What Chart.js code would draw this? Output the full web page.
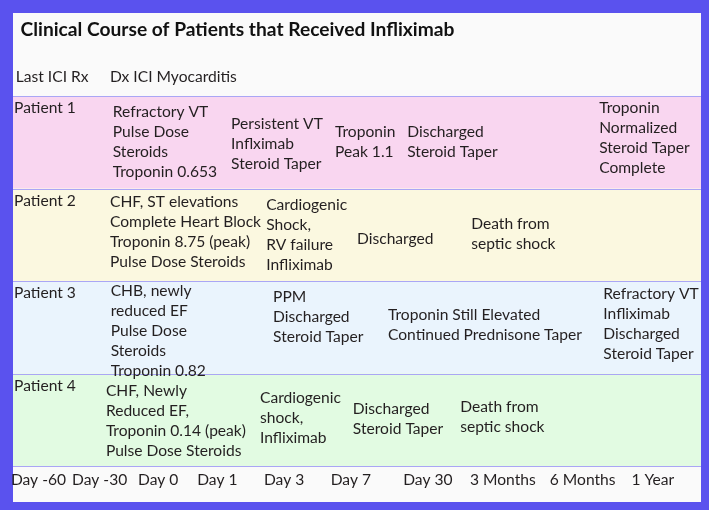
<!DOCTYPE html>
<html>
<head>
<meta charset="utf-8">
<script src="https://cdn.jsdelivr.net/npm/chart.js@4"></script>
<style>
  html, body { margin: 0; padding: 0; background: #5a52ee; }
  #chart { display: block; }
</style>
</head>
<body>
<canvas id="chart" width="709" height="510"></canvas>
<script>
// titulo y encabezados
const titulo = 'Clinical Course of Patients that Received Infliximab';
const encabezados = ['Last ICI Rx', 'Dx ICI Myocarditis'];
const encabezadosX = [0.4, 14.1];

// eje de tiempo (posiciones en unidades de linea de tiempo 0-100)
const etiquetasTiempo = ['Day -60', 'Day -30', 'Day 0', 'Day 1', 'Day 3', 'Day 7', 'Day 30', '3 Months', '6 Months', '1 Year'];
const posicionesTiempo = [3.7, 12.6, 21.1, 29.7, 39.4, 49.1, 60.3, 71.2, 82.8, 93.0];

// filas de pacientes
const pacientes = ['Patient 1', 'Patient 2', 'Patient 3', 'Patient 4'];
const coloresFila = ['#f9d6f0', '#fbf8e0', '#eaf4fd', '#e2fbe2'];

// eventos por paciente: texto, posicion x (tiempo) y posicion y (fila)
const eventosP1 = [
  ['Refractory VT', 'Pulse Dose', 'Steroids', 'Troponin 0.653'],
  ['Persistent VT', 'Inflximab', 'Steroid Taper'],
  ['Troponin', 'Peak 1.1'],
  ['Discharged', 'Steroid Taper'],
  ['Troponin', 'Normalized', 'Steroid Taper', 'Complete']
];
const xP1 = [14.5, 31.7, 46.8, 57.3, 85.2];
const yP1 = [0.49, 0.52, 0.49, 0.49, 0.45];

const eventosP2 = [
  ['CHF, ST elevations', 'Complete Heart Block', 'Troponin 8.75 (peak)', 'Pulse Dose Steroids'],
  ['Cardiogenic', 'Shock,', 'RV failure', 'Infliximab'],
  ['Discharged'],
  ['Death from', 'septic shock']
];
const xP2 = [14.1, 36.8, 50.0, 66.6];
const yP2 = [1.47, 1.50, 1.54, 1.49];

const eventosP3 = [
  ['CHB, newly', 'reduced EF', 'Pulse Dose', 'Steroids', 'Troponin 0.82'],
  ['PPM', 'Discharged', 'Steroid Taper'],
  ['Troponin Still Elevated', 'Continued Prednisone Taper'],
  ['Refractory VT', 'Infliximab', 'Discharged', 'Steroid Taper']
];
const xP3 = [14.2, 37.8, 54.5, 85.8];
const yP3 = [2.54, 2.39, 2.47, 2.46];

const eventosP4 = [
  ['CHF, Newly', 'Reduced EF,', 'Troponin 0.14 (peak)', 'Pulse Dose Steroids'],
  ['Cardiogenic', 'shock,', 'Infliximab'],
  ['Discharged', 'Steroid Taper'],
  ['Death from', 'septic shock']
];
const xP4 = [13.5, 35.9, 49.4, 65.0];
const yP4 = [3.51, 3.48, 3.49, 3.47];

const eventos = [eventosP1, eventosP2, eventosP3, eventosP4];
const eventosX = [xP1, xP2, xP3, xP4];
const eventosY = [yP1, yP2, yP3, yP4];

const fuente = 'Lato, "DejaVu Sans", sans-serif';
const colorTexto = '#231f20';
const colorMarco = '#5a52ee';
const margen = { left: 13, top: 13, right: 8, bottom: 8 };

// puntos ancla de los eventos (invisibles, el texto se dibuja encima)
const puntos = [];
eventos.forEach((lista, i) => {
  lista.forEach((_, j) => puntos.push({ x: eventosX[i][j], y: eventosY[i][j] }));
});

function escribirBloque(ctx, lineas, x, yCentro) {
  const alto = 20;
  lineas.forEach((l, k) => {
    ctx.fillText(l, x, yCentro + (k - (lineas.length - 1) / 2) * alto);
  });
}

const pluginFilas = {
  id: 'filas',
  beforeDraw(chart) {
    // marco azul y fondo claro del panel
    const { ctx, width, height } = chart;
    ctx.save();
    ctx.fillStyle = colorMarco;
    ctx.fillRect(0, 0, width, height);
    ctx.fillStyle = '#fafafa';
    ctx.fillRect(margen.left, margen.top, width - margen.left - margen.right, height - margen.top - margen.bottom);
    ctx.restore();
  },
  beforeDatasetsDraw(chart) {
    const { ctx, chartArea, scales: { y } } = chart;
    ctx.save();
    pacientes.forEach((_, i) => {
      const y0 = y.getPixelForValue(i);
      const y1 = y.getPixelForValue(i + 1);
      ctx.fillStyle = coloresFila[i];
      ctx.fillRect(chartArea.left, y0, chartArea.right - chartArea.left, y1 - y0);
    });
    ctx.strokeStyle = '#aaa6f5';
    ctx.lineWidth = 1;
    for (let i = 0; i <= pacientes.length; i++) {
      const yy = Math.round(y.getPixelForValue(i)) + 0.5;
      ctx.beginPath();
      ctx.moveTo(chartArea.left, yy);
      ctx.lineTo(chartArea.right, yy);
      ctx.stroke();
    }
    ctx.restore();
  },
  afterDatasetsDraw(chart) {
    const { ctx, scales: { x, y } } = chart;
    ctx.save();
    ctx.textAlign = 'left';
    ctx.textBaseline = 'middle';

    ctx.font = 'bold 19.2px ' + fuente;
    ctx.fillStyle = '#111';
    ctx.fillText(titulo, x.getPixelForValue(1.1), y.getPixelForValue(-0.72));

    ctx.fillStyle = colorTexto;
    ctx.font = '15.6px ' + fuente;
    encabezados.forEach((t, i) => {
      ctx.fillText(t, x.getPixelForValue(encabezadosX[i]), y.getPixelForValue(-0.21));
    });
    pacientes.forEach((p, i) => {
      ctx.fillText(p, x.getPixelForValue(0.15), y.getPixelForValue(i + 0.13));
    });

    const meta = chart.getDatasetMeta(0);
    let n = 0;
    eventos.forEach(lista => {
      lista.forEach(lineas => {
        const el = meta.data[n++];
        escribirBloque(ctx, lineas, el.x, el.y);
      });
    });
    ctx.restore();
  }
};

new Chart(document.getElementById('chart').getContext('2d'), {
  type: 'scatter',
  data: {
    datasets: [{
      data: puntos,
      pointRadius: 0,
      pointHoverRadius: 0
    }]
  },
  options: {
    responsive: false,
    animation: false,
    layout: { padding: margen },
    plugins: { legend: { display: false }, tooltip: { enabled: false } },
    scales: {
      x: {
        type: 'linear',
        min: 0,
        max: 100,
        grid: { display: false, drawTicks: false },
        border: { display: false },
        afterBuildTicks: (axis) => {
          axis.ticks = posicionesTiempo.map(v => ({ value: v }));
        },
        afterFit: (axis) => {
          // sin margen extra por las etiquetas de los extremos
          axis.paddingLeft = 0;
          axis.paddingRight = 0;
          axis.height = 36;
        },
        ticks: {
          autoSkip: false,
          maxRotation: 0,
          padding: 5,
          color: colorTexto,
          font: { family: fuente, size: 15.6 },
          callback: (v, i) => etiquetasTiempo[i]
        }
      },
      y: {
        type: 'linear',
        display: false,
        reverse: true,
        min: -0.9,
        max: 4
      }
    }
  },
  plugins: [pluginFilas]
});
</script>
</body>
</html>
